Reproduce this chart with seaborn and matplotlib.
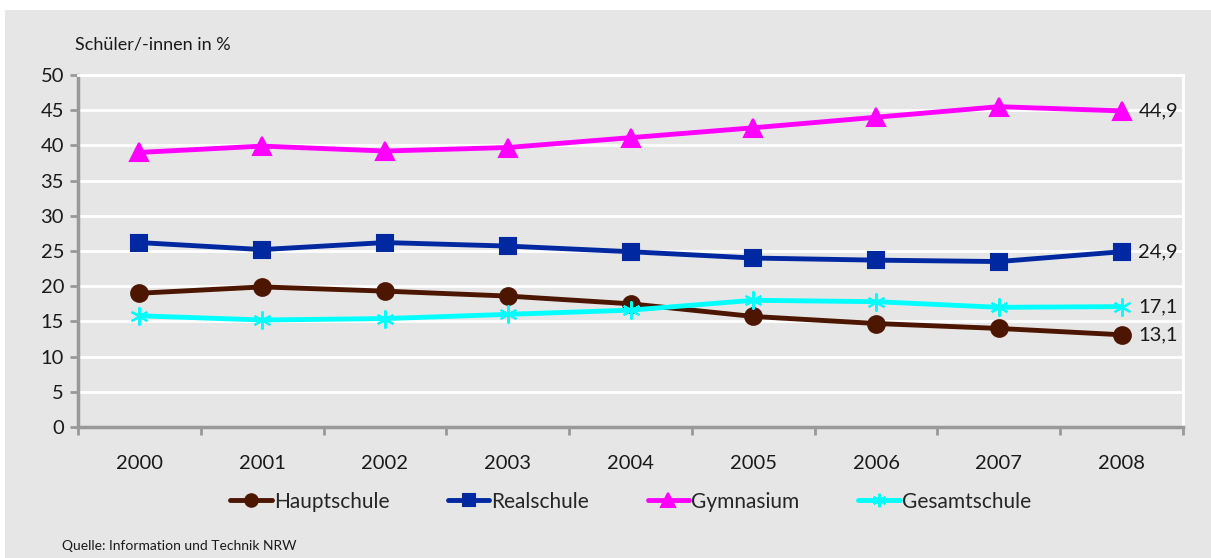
import matplotlib
matplotlib.use("Agg")
import matplotlib.pyplot as plt
import seaborn as sns
from matplotlib.patches import Rectangle
from matplotlib.ticker import MultipleLocator

jahre = [2000, 2001, 2002, 2003, 2004, 2005, 2006, 2007, 2008]
hauptschule = [19.0, 19.9, 19.3, 18.6, 17.5, 15.7, 14.7, 14.0, 13.1]
realschule = [26.2, 25.2, 26.2, 25.7, 24.9, 24.0, 23.7, 23.5, 24.9]
gymnasium = [39.0, 39.9, 39.2, 39.7, 41.1, 42.5, 44.0, 45.5, 44.9]
gesamtschule = [15.8, 15.2, 15.4, 16.0, 16.6, 18.0, 17.8, 17.0, 17.1]
endwerte = ["13,1", "24,9", "44,9", "17,1"]

BG = "#e6e6e6"
sns.set_style("white")
plt.rcParams["font.family"] = ["Lato", "DejaVu Sans"]

fig = plt.figure(figsize=(12.11, 5.58), dpi=100)
fig.patch.set_facecolor("white")
fig.patches.append(Rectangle((5 / 1211, 0), 1 - 5 / 1211, 1 - 10 / 558,
                             transform=fig.transFigure, facecolor=BG,
                             edgecolor="none", zorder=-1))
ax = fig.add_axes([78 / 1211, 1 - 427 / 558, (1183 - 78) / 1211, (427 - 75) / 558])
ax.set_facecolor(BG)

reihen = [
    ("Hauptschule", hauptschule, "#4d1600", "o", 12),
    ("Realschule", realschule, "#0028a0", "s", 11),
    ("Gymnasium", gymnasium, "#ff00ff", "^", 13),
    ("Gesamtschule", gesamtschule, "#00ffff", (6, 2, 0), 13),
]
for name, werte, farbe, marker, ms in reihen:
    sns.lineplot(x=jahre, y=werte, color=farbe, marker=marker, markersize=ms,
                 markeredgecolor=farbe, markerfacecolor=farbe, markeredgewidth=1.5,
                 lw=3.5, label=name, ax=ax, zorder=3)

for (name, werte, farbe, marker, ms), txt in zip(reihen, endwerte):
    ax.annotate(txt, (jahre[-1], werte[-1]), xytext=(12, 0), textcoords="offset points",
                va="center", ha="left", fontsize=14.5, color="#1a1a1a")

ax.set_xlim(1999.5, 2008.5)
ax.set_ylim(0, 50)
ax.yaxis.set_major_locator(MultipleLocator(5))
ax.set_xticks(jahre)
ax.set_xticks([j - 0.5 for j in jahre] + [2008.5], minor=True)
ax.grid(axis="y", color="white", lw=2, zorder=0)
ax.set_axisbelow(True)

for s in ["top", "right"]:
    ax.spines[s].set_color("white")
    ax.spines[s].set_linewidth(2)
for s in ["left", "bottom"]:
    ax.spines[s].set_color("#999999")
    ax.spines[s].set_linewidth(2.5)

ax.tick_params(axis="y", length=6, width=2, color="#999999", labelsize=14.5,
               labelcolor="#1a1a1a", pad=4, left=True)
ax.tick_params(axis="x", which="major", length=0, labelsize=14.5,
               labelcolor="#1a1a1a", pad=20, bottom=False)
ax.tick_params(axis="x", which="minor", length=6, width=2, color="#999999", bottom=True)

sns.move_legend(ax, "upper center", bbox_to_anchor=(0.5, -0.13), ncol=4,
                frameon=False, title=None, fontsize=15, handlelength=2.0,
                handletextpad=0.1, columnspacing=2.8, markerscale=0.75)

fig.text(75 / 1211, 1 - 45 / 558, "Schüler/-innen in %", fontsize=13,
         color="#1a1a1a", va="center", ha="left")
fig.text(62 / 1211, 1 - 546 / 558, "Quelle: Information und Technik NRW",
         fontsize=10, color="#1a1a1a", va="center", ha="left")

fig.savefig("out.png", dpi=100, facecolor=fig.get_facecolor())
